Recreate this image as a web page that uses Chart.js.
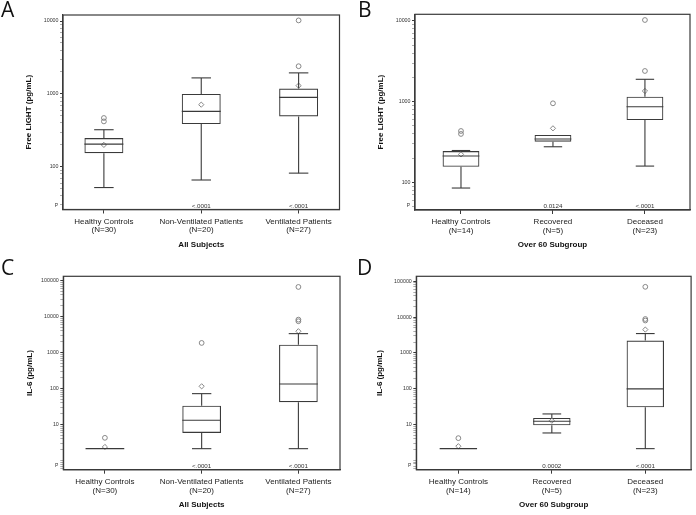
<!DOCTYPE html>
<html>
<head>
<meta charset="utf-8">
<script src="https://cdn.jsdelivr.net/npm/chart.js@4.4.1/dist/chart.umd.min.js"></script>
<style>
  body { margin: 0; background: #fff; }
  #wrap { position: relative; width: 696px; height: 515px; overflow: hidden; }
  canvas { position: absolute; }
  .letter { position: absolute; font-family: "Open Sans", sans-serif; font-size: 21px; color: #111; line-height: 21px; }
</style>
</head>
<body>
<div id="wrap">
  <canvas id="chartA" width="348" height="258" style="left:0;top:0"></canvas>
  <canvas id="chartB" width="348" height="258" style="left:348px;top:0"></canvas>
  <canvas id="chartC" width="348" height="257" style="left:0;top:258px"></canvas>
  <canvas id="chartD" width="348" height="257" style="left:348px;top:258px"></canvas>
  <div class="letter" style="left:1px;top:-1px">A</div>
  <div class="letter" style="left:358px;top:-1px">B</div>
  <div class="letter" style="left:1px;top:257px">C</div>
  <div class="letter" style="left:357px;top:257px">D</div>
</div>
<script>
// Panel A - Free LIGHT, all subjects
const groupsA = ['Healthy Controls', 'Non-Ventilated Patients', 'Ventilated Patients'];
const countsA = ['(N=30)', '(N=20)', '(N=27)'];
const lowA = [52, 66, 82];
const q1A = [154, 387, 492];
const medA = [205, 577, 898];
const q3A = [248, 1000, 1183];
const highA = [323, 1660, 1945];
const meanA = [200, 713, 1300];
const outA = [[420, 468], [], [2400, 10200]];
const pA = ['', '<.0001', '<.0001'];

// Panel B - Free LIGHT, over 60
const groupsB = ['Healthy Controls', 'Recovered', 'Deceased'];
const countsB = ['(N=14)', '(N=5)', '(N=23)'];
const lowB = [85, 276, 159];
const q1B = [156, 319, 592];
const medB = [212, 345, 866];
const q3B = [244, 386, 1152];
const highB = [248, 386, 1893];
const meanB = [222, 467, 1356];
const outB = [[398, 433], [954], [2400, 10280]];
const pB = ['', '0.0124', '<.0001'];

// Panel C - IL-6, all subjects
const groupsC = ['Healthy Controls', 'Non-Ventilated Patients', 'Ventilated Patients'];
const countsC = ['(N=30)', '(N=20)', '(N=27)'];
const lowC = [2.15, 2.15, 2.15];
const q1C = [2.15, 5.9, 42];
const medC = [2.15, 13.2, 135];
const q3C = [2.15, 33.7, 1668];
const highC = [2.15, 72.6, 3372];
const meanC = [2.4, 116, 3930];
const outC = [[4.3], [1860], [7450, 8260, 66800]];
const pC = ['', '<.0001', '<.0001'];

// Panel D - IL-6, over 60
const groupsD = ['Healthy Controls', 'Recovered', 'Deceased'];
const countsD = ['(N=14)', '(N=5)', '(N=23)'];
const lowD = [2.14, 5.86, 2.14];
const q1D = [2.14, 9.6, 30.6];
const medD = [2.14, 12.4, 99.5];
const q3D = [2.14, 15.4, 2220];
const highD = [2.14, 19.9, 3480];
const meanD = [2.5, 12.9, 4500];
const outD = [[4.2], [], [8060, 8870, 70200]];
const pD = ['', '0.0002', '<.0001'];

const yTicksLight = [100, 1000, 10000];
const yTicksIL6 = [10, 100, 1000, 10000, 100000];

const LINE = '#3a3a3a';
const MARK = '#7c7c7c';
const FONT = '"Liberation Sans", Arial, sans-serif';

// whiskers, medians, frame and the p-value row
const boxParts = {
  id: 'boxParts',
  afterDatasetsDraw(chart, args, o) {
    const { ctx, chartArea: a, scales: { x, y } } = chart;
    const line = (x1, y1, x2, y2) => { ctx.beginPath(); ctx.moveTo(x1, y1); ctx.lineTo(x2, y2); ctx.stroke(); };
    ctx.save();
    ctx.strokeStyle = LINE;
    ctx.lineWidth = 1.1;
    o.med.forEach((m, i) => {
      const cx = x.getPixelForValue(i);
      const bw = x.getPixelForValue(i + 0.2) - cx;
      const cw = bw / 2;
      const yq1 = y.getPixelForValue(o.q1[i]);
      const yq3 = y.getPixelForValue(o.q3[i]);
      if (o.high[i] > o.q3[i]) {
        const yh = y.getPixelForValue(o.high[i]);
        line(cx, yq3, cx, yh);
        line(cx - cw, yh, cx + cw, yh);
      }
      if (o.low[i] < o.q1[i]) {
        const yl = y.getPixelForValue(o.low[i]);
        line(cx, yq1, cx, yl);
        line(cx - cw, yl, cx + cw, yl);
      }
      const ym = y.getPixelForValue(m);
      line(cx - bw, ym, cx + bw, ym);
    });
    ctx.lineWidth = 1.2;
    ctx.strokeRect(a.left, a.top, a.right - a.left, a.bottom - a.top);

    ctx.fillStyle = '#333';
    ctx.font = '6.2px ' + FONT;
    ctx.textAlign = 'center';
    ctx.textBaseline = 'bottom';
    o.p.forEach((t, i) => { if (t) ctx.fillText(t, x.getPixelForValue(i), a.bottom - 0.6); });
    ctx.font = '5px ' + FONT;
    ctx.textAlign = 'right';
    ctx.fillText('P', a.left - 5, a.bottom - 1.5);
    ctx.restore();
  }
};

function makePanel(id, p) {
  const outPts = [];
  p.out.forEach((vals, i) => vals.forEach(v => outPts.push({ x: i, y: v })));

  // minor ticks on the log axis: 2..9 times each decade
  const allTicks = [];
  const k0 = Math.floor(Math.log10(p.ymin));
  const k1 = Math.ceil(Math.log10(p.ymax));
  for (let k = k0; k <= k1; k++) {
    for (let m = 1; m <= 9; m++) {
      const v = m * Math.pow(10, k);
      if (v >= p.ymin && v <= p.ymax) allTicks.push(v);
    }
  }
  const isMajor = v => p.yTicks.some(t => Math.abs(t - v) < t * 1e-6);

  new Chart(document.getElementById(id), {
    type: 'bar',
    data: {
      datasets: [
        {
          type: 'scatter',
          data: p.mean.map((v, i) => ({ x: i, y: v })),
          pointStyle: 'rectRot',
          radius: 2.6,
          borderColor: MARK,
          backgroundColor: 'rgba(0,0,0,0)',
          borderWidth: 0.9
        },
        {
          type: 'scatter',
          data: outPts,
          pointStyle: 'circle',
          radius: 2.4,
          borderColor: MARK,
          backgroundColor: 'rgba(0,0,0,0)',
          borderWidth: 0.9
        },
        {
          type: 'bar',
          data: p.q1.map((v, i) => ({ x: i, y: [v, p.q3[i]] })),
          backgroundColor: 'rgba(0,0,0,0)',
          borderColor: LINE,
          borderWidth: 1.1,
          borderSkipped: false,
          barPercentage: 0.4,
          categoryPercentage: 1.0
        }
      ]
    },
    options: {
      responsive: false,
      animation: false,
      layout: { padding: { left: p.padL, right: p.padR, top: p.padT, bottom: 0 } },
      plugins: {
        legend: { display: false },
        tooltip: { enabled: false },
        boxParts: { low: p.low, q1: p.q1, med: p.med, q3: p.q3, high: p.high, p: p.pv }
      },
      scales: {
        x: {
          type: 'linear',
          min: p.xmin,
          max: p.xmax,
          offset: false,
          afterFit: s => { s.height = p.xH; },
          afterBuildTicks: s => { s.ticks = p.groups.map((g, i) => ({ value: i })); },
          grid: { offset: false, drawOnChartArea: false, drawTicks: true, tickLength: 4, color: LINE, lineWidth: 1 },
          border: { display: true, color: LINE, width: 1.2 },
          ticks: {
            autoSkip: false,
            maxRotation: 0,
            padding: 4,
            color: '#222',
            font: { family: FONT, size: 8, lineHeight: 1.05 },
            callback: v => [p.groups[v], p.counts[v]]
          },
          title: {
            display: true,
            text: p.xTitle,
            color: '#111',
            font: { family: FONT, size: 8, weight: 'bold' },
            padding: { top: 0, bottom: p.xTitlePad }
          }
        },
        y: {
          type: 'logarithmic',
          min: p.ymin,
          max: p.ymax,
          afterFit: s => { s.width = p.yW; },
          afterBuildTicks: s => { s.ticks = allTicks.map(v => ({ value: v, major: isMajor(v) })); },
          grid: {
            drawOnChartArea: false,
            drawTicks: true,
            tickLength: 3,
            color: c => (c.tick && isMajor(c.tick.value)) ? LINE : '#8a8a8a',
            lineWidth: c => (c.tick && isMajor(c.tick.value)) ? 1 : 0.7
          },
          border: { display: true, color: LINE, width: 1.2 },
          ticks: {
            autoSkip: false,
            padding: 1.5,
            color: '#333',
            font: { family: FONT, size: 5.3 },
            callback: v => isMajor(v) ? String(v) : ''
          },
          title: {
            display: true,
            text: p.yTitle,
            color: '#111',
            font: { family: FONT, size: 8, weight: 'bold' },
            padding: { top: 0, bottom: 0 }
          }
        }
      }
    },
    plugins: [boxParts]
  });
}

makePanel('chartA', {
  groups: groupsA, counts: countsA, low: lowA, q1: q1A, med: medA, q3: q3A, high: highA,
  mean: meanA, out: outA, pv: pA, yTicks: yTicksLight,
  xTitle: 'All Subjects', yTitle: 'Free LIGHT (pg/mL)',
  ymin: 26, ymax: 12100, xmin: -0.42, xmax: 2.42,
  padL: 24.2, padR: 8.5, padT: 15, yW: 38.8, xH: 48.5, xTitlePad: 8
});
makePanel('chartB', {
  groups: groupsB, counts: countsB, low: lowB, q1: q1B, med: medB, q3: q3B, high: highB,
  mean: meanB, out: outB, pv: pB, yTicks: yTicksLight,
  xTitle: 'Over 60 Subgroup', yTitle: 'Free LIGHT (pg/mL)',
  ymin: 45.4, ymax: 12100, xmin: -0.5, xmax: 2.49,
  padL: 28.2, padR: 6, padT: 14.3, yW: 38.8, xH: 48, xTitlePad: 8
});
makePanel('chartC', {
  groups: groupsC, counts: countsC, low: lowC, q1: q1C, med: medC, q3: q3C, high: highC,
  mean: meanC, out: outC, pv: pC, yTicks: yTicksIL6,
  xTitle: 'All Subjects', yTitle: 'IL-6 (pg/mL)',
  ymin: 0.56, ymax: 132000, xmin: -0.43, xmax: 2.43,
  padL: 24.5, padR: 8, padT: 18.3, yW: 38.8, xH: 45.3, xTitlePad: 5
});
makePanel('chartD', {
  groups: groupsD, counts: countsD, low: lowD, q1: q1D, med: medD, q3: q3D, high: highD,
  mean: meanD, out: outD, pv: pD, yTicks: yTicksIL6,
  xTitle: 'Over 60 Subgroup', yTitle: 'IL-6 (pg/mL)',
  ymin: 0.553, ymax: 138000, xmin: -0.45, xmax: 2.49,
  padL: 27, padR: 4.7, padT: 18.3, yW: 41.3, xH: 45.3, xTitlePad: 5
});
</script>
</body>
</html>
